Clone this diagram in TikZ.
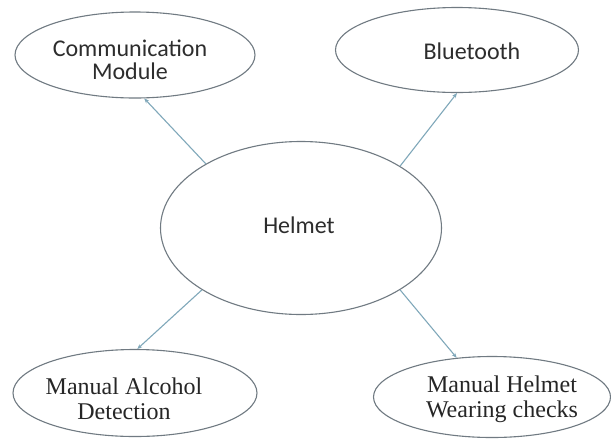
\documentclass[tikz,border=0pt]{standalone}
\usepackage{fontspec}
\setmainfont{Liberation Serif}
\newfontfamily\calib{Carlito}
\usetikzlibrary{shapes.geometric,arrows.meta}
\definecolor{edgecol}{RGB}{112,122,130}
\definecolor{arrcol}{RGB}{128,168,186}
\definecolor{txtcol}{RGB}{45,45,45}
\tikzset{
  bubble/.style={ellipse, draw=edgecol, line width=1.1pt, fill=white, inner sep=0pt},
  conn/.style={draw=arrcol, line width=1.1pt, -{Stealth[length=5pt,width=4pt]}},
  sanslbl/.style={font=\calib\fontsize{24}{23}\selectfont, text=txtcol, align=center, inner sep=0pt},
  seriflbl/.style={font=\fontsize{24}{25}\selectfont, text=black!85, align=center, inner sep=0pt}
}
\begin{document}
\begin{tikzpicture}[x=1pt,y=-1pt]
\useasboundingbox[fill=white] (0,0) rectangle (611,440);
\node[bubble, minimum width=240pt, minimum height=86pt] (cm) at (135,55) {};
\node[bubble, minimum width=243pt, minimum height=85pt] (bt) at (457,50) {};
\node[bubble, minimum width=281pt, minimum height=173pt] (h) at (301,228) {};
\node[bubble, minimum width=244pt, minimum height=87pt] (mad) at (135,393) {};
\node[bubble, minimum width=237pt, minimum height=81pt] (mhw) at (492,397) {};
\node[sanslbl] (cmt) at (130,60) {Communication\\Module};
\node[sanslbl] (btt) at (472,51) {Bluetooth};
\node[sanslbl] (ht) at (299,225) {Helmet};
\node[seriflbl] (madt) at (124,399) {Manual Alcohol\\Detection};
\node[seriflbl] (mhwt) at (502,399) {Manual Helmet\\Wearing checks};
\draw[conn] (h.146) -- (cm.282);
\draw[conn] (h.32.5) -- (bt.270);
\draw[conn] (h.212.8) -- (mad.87);
\draw[conn] (h.328.5) -- (mhw.132);
\end{tikzpicture}
\end{document}
